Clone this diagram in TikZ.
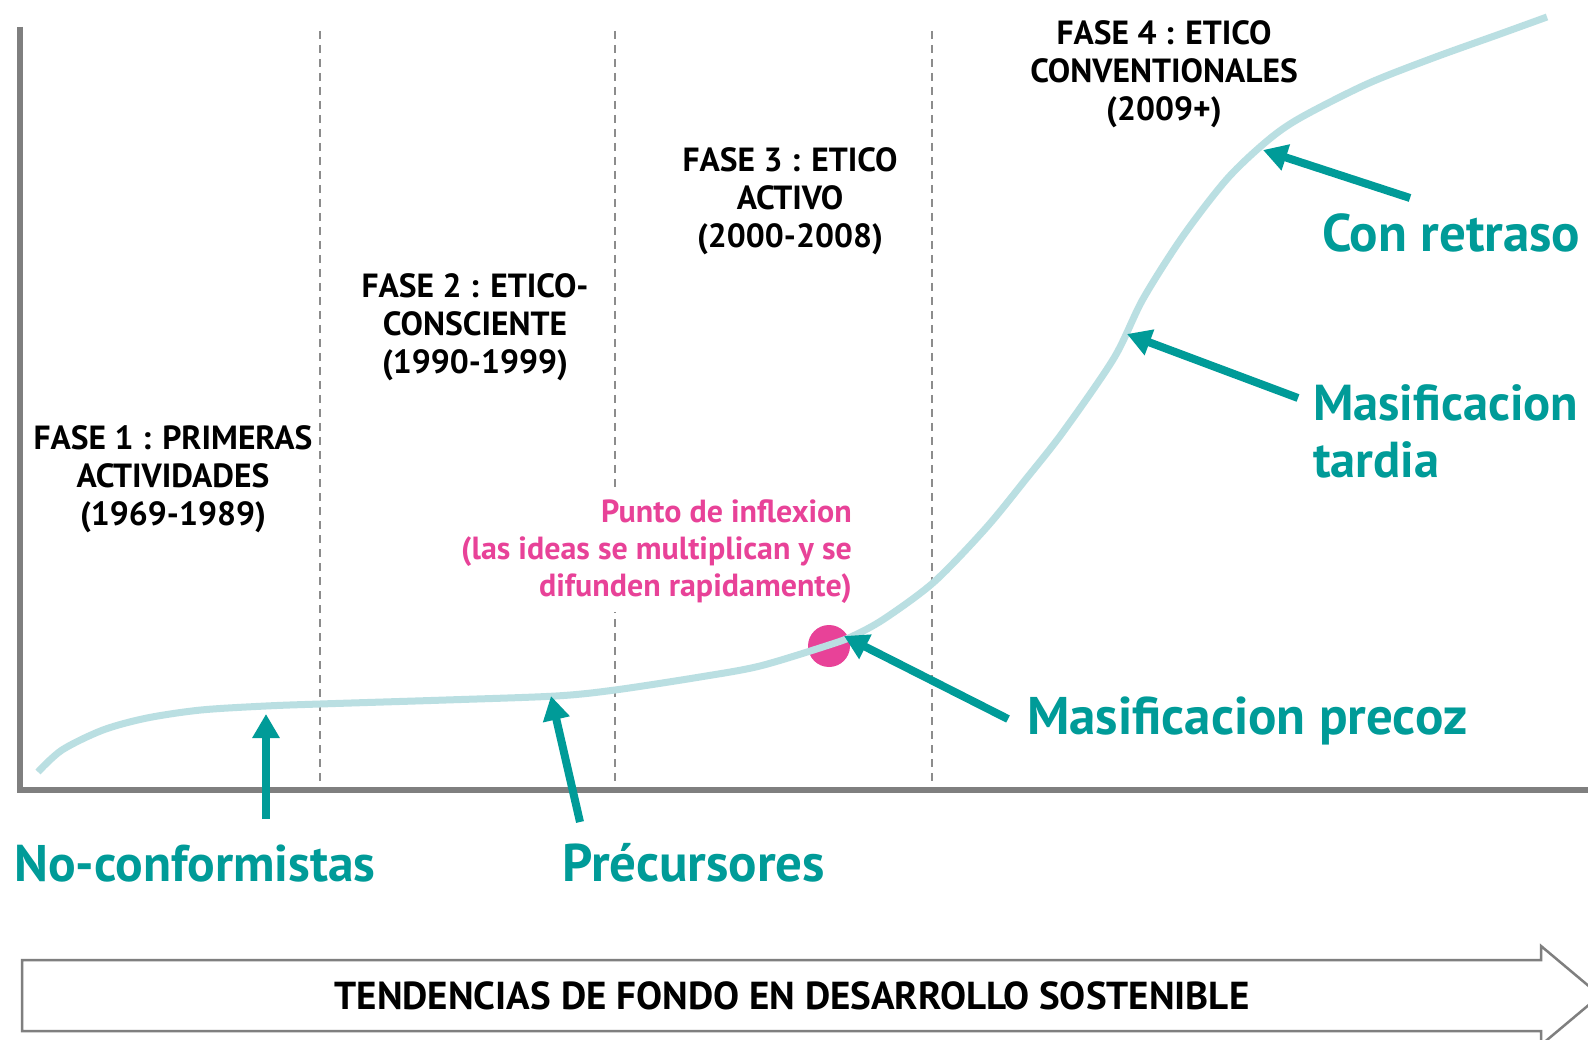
\documentclass[tikz,border=0pt]{standalone}
\usepackage{fontspec}
\setmainfont{PT Sans}
\usetikzlibrary{arrows.meta}
\definecolor{tealc}{RGB}{0,155,152}
\definecolor{curveblue}{RGB}{186,223,226}
\definecolor{pinkc}{RGB}{232,66,152}
\definecolor{axisgray}{RGB}{127,127,127}
\definecolor{dashgray}{RGB}{140,140,140}
\begin{document}
\begin{tikzpicture}[x=1pt,y=-1pt,
  phase/.style={align=center, font=\fontsize{33.5}{38}\selectfont\bfseries, inner sep=0pt, anchor=base},
  bigteal/.style={font=\fontsize{53}{58}\selectfont\bfseries, text=tealc, inner sep=0pt, anchor=base west, align=left},
  pointer/.style={draw=tealc, line width=8pt, -{Triangle[length=24pt,width=26pt]}},
  divider/.style={draw=dashgray, line width=1.6pt, dash pattern=on 8pt off 6pt},
  axisline/.style={draw=axisgray, line width=6pt},
  trend/.style={draw=curveblue, line width=7pt},
  bandarrow/.style={draw=axisgray, line width=2.5pt, fill=white, line join=miter},
]
\useasboundingbox (0,0) rectangle (1588,1040);
\fill[white] (0,0) rectangle (1588,1040);
\clip (0,0) rectangle (1588,1040);

% phase dividers
\draw[divider] (320,31) -- (320,781);
\draw[divider] (615,31) -- (615,781);
\draw[divider] (932,31) -- (932,781);

% axes
\draw[axisline] (20,27) -- (20,792);
\draw[axisline] (17,789.5) -- (1588,789.5);

% inflexion dot
\fill[pinkc] (829,646) circle (21);

% adoption curve
\draw[trend] plot[smooth, tension=0.5] coordinates {
 (38,772) (62,750) (103,730) (147,718) (201,710) (266,706) (320,704)
 (446,700) (556,696) (615,690) (700,677) (760,666) (829,645) (853,636)
 (884,619) (934,582) (986,528) (1026,479) (1063,432) (1114,358)
 (1143,299) (1183,236) (1227,179) (1267,141) (1300,118) (1367,84)
 (1433,58) (1500,34) (1547,17)};

% phase labels (anchor = baseline of the last line)
\node[phase] (f1) at (173,525) {FASE 1 : PRIMERAS\\ACTIVIDADES\\(1969-1989)};
\node[phase] (f2) at (475,374) {FASE 2 : ETICO-\\CONSCIENTE\\(1990-1999)};
\node[phase] (f3) at (790,248) {FASE 3 : ETICO\\ACTIVO\\(2000-2008)};
\node[phase] (f4) at (1164,121) {FASE 4 : ETICO\\CONVENTIONALES\\(2009+)};

% inflexion text
\node[align=right, anchor=east, fill=white, inner xsep=0pt, inner ysep=8pt,
      text=pinkc, font=\fontsize{32}{37}\selectfont\bfseries] (infl) at (852,552)
  {Punto de inflexion\\(las ideas se multiplican y se\\difunden rapidamente)};

% adopter labels
\node[bigteal, font=\fontsize{51.5}{58}\selectfont\bfseries] (noconf) at (14,881) {No-conformistas};
\node[bigteal] (precur) at (562,881) {Précursores};
\node[bigteal] (precoz) at (1027,734) {Masificacion precoz};
\node[bigteal, font=\fontsize{50.5}{58}\selectfont\bfseries] (tardia) at (1313,478) {Masificacion\\tardia};
\node[bigteal] (retraso) at (1322,252) {Con retraso};

% pointers
\coordinate (nc-tail) at (266,819);
\coordinate (nc-tip) at (266,714);
\coordinate (pr-tail) at (580,822);
\coordinate (pr-tip) at (551,696);
\coordinate (mp-tail) at (1008,719);
\coordinate (mp-tip) at (844,636);
\coordinate (mt-tail) at (1298,398);
\coordinate (mt-tip) at (1127,334);
\coordinate (cr-tail) at (1410,198);
\coordinate (cr-tip) at (1263,150);
\draw[pointer] (nc-tail) -- (nc-tip);
\draw[pointer] (pr-tail) -- (pr-tip);
\draw[pointer] (mp-tail) -- (mp-tip);
\draw[pointer] (mt-tail) -- (mt-tip);
\draw[pointer] (cr-tail) -- (cr-tip);

% bottom trend arrow
\draw[bandarrow] (22,960) -- (1541,960) -- (1541,946) -- (1600,995.5)
  -- (1541,1045) -- (1541,1031) -- (22,1031) -- cycle;
\node[font=\fontsize{39}{44}\selectfont\bfseries, inner sep=0pt] (band) at (792,996)
  {TENDENCIAS DE FONDO EN DESARROLLO SOSTENIBLE};
\end{tikzpicture}
\end{document}
